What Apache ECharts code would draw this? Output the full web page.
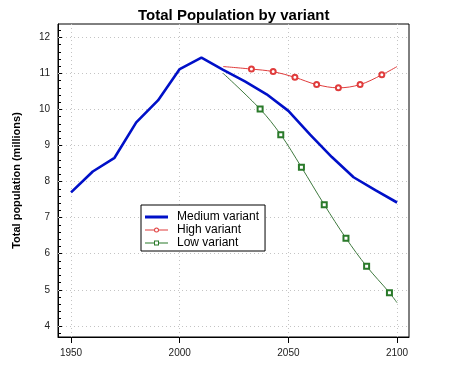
<!DOCTYPE html>
<html>
<head>
<meta charset="utf-8">
<script src="https://cdn.jsdelivr.net/npm/echarts@6/dist/echarts.min.js"></script>
<style>html,body{margin:0;padding:0;background:#fff}#c{width:450px;height:372px}</style>
</head>
<body>
<div id="c"></div>
<script>
// Data
var mediumYears = [1950, 1960, 1970, 1980, 1990, 2000, 2010, 2020, 2030, 2040, 2050, 2060, 2070, 2080, 2090, 2100];
var mediumValues = [7.7, 8.28, 8.66, 9.64, 10.25, 11.12, 11.44, 11.1, 10.78, 10.42, 9.96, 9.3, 8.68, 8.12, 7.76, 7.42];
var highYears = [2020, 2033, 2043, 2053, 2063, 2073, 2083, 2093, 2100];
var highValues = [11.19, 11.12, 11.05, 10.89, 10.69, 10.6, 10.69, 10.96, 11.19];
var highMarked = [false, true, true, true, true, true, true, true, false];
var lowYears = [2020, 2037, 2046.5, 2056, 2066.5, 2076.5, 2086, 2096.5, 2100];
var lowValues = [11.0, 10.01, 9.3, 8.4, 7.36, 6.43, 5.65, 4.92, 4.64];
var lowMarked = [false, true, true, true, true, true, true, true, false];
var xTickLabels = [1950, 2000, 2050, 2100];
var yTickLabels = [4, 5, 6, 7, 8, 9, 10, 11, 12];
var yMinorTicks = [];
for (var v = 38; v <= 123; v += 2) { if (v % 10 !== 0) yMinorTicks.push(v / 10); }

function pairs(xs, ys, marked) {
  return xs.map(function (x, i) {
    var d = { value: [x, ys[i]] };
    if (marked && !marked[i]) d.symbol = 'none';
    return d;
  });
}

var gridMarks = xTickLabels.map(function (x) { return { xAxis: x }; })
  .concat(yTickLabels.map(function (y) { return { yAxis: y }; }));

var font = 'Liberation Sans, Arial, sans-serif';
var chart = echarts.init(document.getElementById('c'), null, { renderer: 'canvas' });
chart.setOption({
  animation: false,
  backgroundColor: '#fff',
  title: {
    text: 'Total Population by variant',
    left: 138, top: 8, padding: 0,
    textStyle: { fontFamily: font, fontSize: 15, fontWeight: 'bold', color: '#000' }
  },
  grid: { left: 58, right: 41, top: 24, bottom: 35, show: true, borderColor: '#000', borderWidth: 1, containLabel: false },
  legend: {
    z: 20,
    data: [
      { name: 'Medium variant', icon: 'path://M0,0 L23,0 L23,3 L0,3 Z', itemStyle: { color: '#0010c8', borderWidth: 0 } },
      { name: 'High variant', icon: 'path://M0,2 H9 V3 H0 Z M14,2 H23 V3 H14 Z M9,2.5 A2.5,2.5 0 1,1 14,2.5 A2.5,2.5 0 1,1 9,2.5 Z M10,2.5 A1.5,1.5 0 1,0 13,2.5 A1.5,1.5 0 1,0 10,2.5 Z', itemStyle: { color: '#e03c3c', borderWidth: 0 } },
      { name: 'Low variant', icon: 'path://M0,2 H9 V3 H0 Z M14,2 H23 V3 H14 Z M9,0 H14 V5 H9 Z M10,1 V4 H13 V1 Z', itemStyle: { color: '#2a7a2a', borderWidth: 0 } }
    ],
    orient: 'vertical', left: 141, top: 205,
    padding: [6, 6, 2, 4], itemGap: 1, itemWidth: 23, itemHeight: 8,
    borderColor: '#000', borderWidth: 1, backgroundColor: '#fff',
    itemStyle: { borderWidth: 0 },
    textStyle: { fontFamily: font, fontSize: 12, color: '#000', padding: [0, 0, 0, 4] }
  },
  xAxis: {
    type: 'value', min: 1944, max: 2105.5,
    axisLine: { show: true, lineStyle: { color: '#000' } },
    axisTick: { show: true, inside: false, length: 6, customValues: xTickLabels, lineStyle: { color: '#000' } },
    axisLabel: { customValues: xTickLabels, margin: 11, fontFamily: font, fontSize: 10, color: '#222',
      formatter: function (v) { return String(v); } },
    splitLine: { show: false }
  },
  yAxis: [{
    type: 'value', min: 3.69, max: 12.37,
    name: 'Total population (millions)', nameLocation: 'middle', nameGap: 36,
    nameTextStyle: { fontFamily: font, fontSize: 11, fontWeight: 'bold', color: '#000' },
    axisLine: { show: true, lineStyle: { color: '#000' } },
    axisTick: { show: true, inside: true, length: 4, customValues: yTickLabels, lineStyle: { color: '#000' } },
    axisLabel: { customValues: yTickLabels, margin: 8, fontFamily: font, fontSize: 10, color: '#222' },
    splitLine: { show: false }
  }, {
    type: 'value', min: 3.69, max: 12.37, position: 'left',
    axisLine: { show: false },
    axisTick: { show: true, inside: true, length: 3, customValues: yMinorTicks, lineStyle: { color: '#000' } },
    axisLabel: { show: false },
    splitLine: { show: false }
  }],
  series: [{
    name: 'grid', type: 'line', data: [], z: 1, silent: true,
    markLine: {
      z: 1, silent: true, symbol: ['none', 'none'], label: { show: false }, animation: false,
      lineStyle: { color: '#c4c4c4', type: [1, 3], width: 1 },
      emphasis: { disabled: true },
      data: gridMarks
    }
  }, {
    name: 'Medium variant', type: 'line', data: pairs(mediumYears, mediumValues),
    symbol: 'none', lineStyle: { color: '#0010c8', width: 2.6 }, itemStyle: { color: '#0010c8' }, z: 4
  }, {
    name: 'High variant', type: 'line', data: pairs(highYears, highValues, highMarked),
    smooth: 0.35, symbol: 'emptyCircle', symbolSize: 5, showAllSymbol: true,
    lineStyle: { color: '#e03c3c', width: 1 }, itemStyle: { color: '#e03c3c', borderColor: '#e03c3c', borderWidth: 1 }, z: 3
  }, {
    name: 'Low variant', type: 'line', data: pairs(lowYears, lowValues, lowMarked),
    smooth: 0.35, symbol: 'emptyRect', symbolSize: 5, showAllSymbol: true,
    lineStyle: { color: '#3f7a3f', width: 1 }, itemStyle: { color: '#2a7a2a', borderColor: '#2a7a2a', borderWidth: 1 }, z: 3
  }]
});
</script>
</body>
</html>
